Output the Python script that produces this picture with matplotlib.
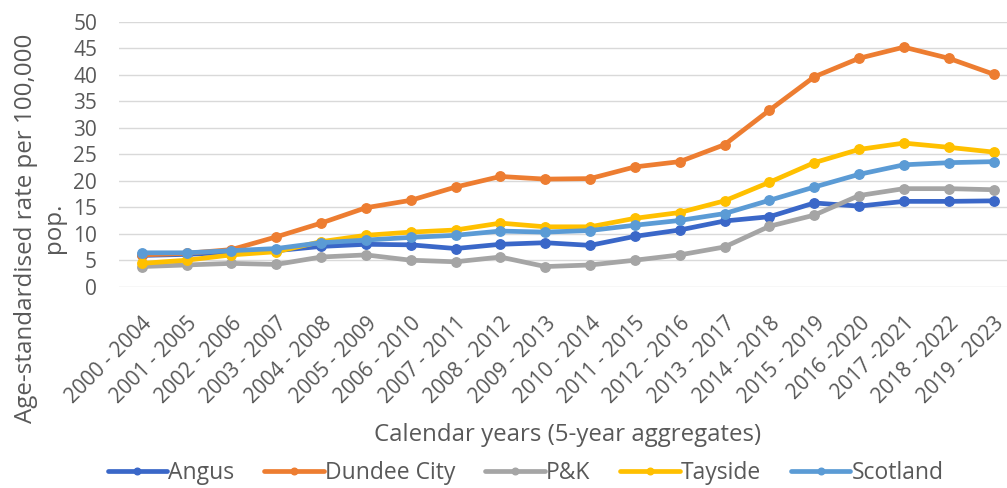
import matplotlib.pyplot as plt
from matplotlib.transforms import ScaledTranslation

periods = ['2000 - 2004', '2001 - 2005', '2002 - 2006', '2003 - 2007', '2004 - 2008',
           '2005 - 2009', '2006 - 2010', '2007 - 2011', '2008 - 2012', '2009 - 2013',
           '2010 - 2014', '2011 - 2015', '2012 - 2016', '2013 - 2017', '2014 - 2018',
           '2015 - 2019', '2016 -2020', '2017 -2021', '2018 - 2022', '2019 - 2023']

angus = [5.9, 6.1, 6.5, 6.8, 7.6, 8.0, 7.9, 7.2, 8.0, 8.3,
         7.8, 9.5, 10.7, 12.4, 13.2, 15.8, 15.2, 16.1, 16.1, 16.2]
dundee = [6.0, 6.3, 7.0, 9.4, 12.0, 14.9, 16.3, 18.8, 20.8, 20.3,
          20.4, 22.6, 23.6, 26.8, 33.3, 39.6, 43.1, 45.2, 43.1, 40.1]
pk = [3.8, 4.1, 4.4, 4.2, 5.6, 6.0, 5.0, 4.7, 5.6, 3.8,
      4.1, 5.0, 6.0, 7.5, 11.4, 13.5, 17.2, 18.5, 18.5, 18.3]
tayside = [4.4, 5.0, 6.0, 6.6, 8.5, 9.7, 10.3, 10.7, 12.0, 11.3,
           11.3, 12.9, 14.0, 16.2, 19.7, 23.4, 25.9, 27.1, 26.3, 25.4]
scotland = [6.4, 6.4, 6.8, 7.2, 8.3, 8.8, 9.3, 9.7, 10.5, 10.3,
            10.6, 11.6, 12.5, 13.8, 16.3, 18.8, 21.2, 23.0, 23.4, 23.6]

series = [('Angus', angus, '#3A67C8'),
          ('Dundee City', dundee, '#ED7D31'),
          ('P&K', pk, '#A5A5A5'),
          ('Tayside', tayside, '#FFC000'),
          ('Scotland', scotland, '#5B9BD5')]

plt.rcParams['font.family'] = ['Open Sans', 'DejaVu Sans']
text_col = '#595959'

fig = plt.figure(figsize=(10.07, 4.88), dpi=100)
ax = fig.add_axes([0.1185, 0.4125, 0.8815, 0.543])

x = range(len(periods))
for name, vals, col in series:
    ax.plot(x, vals, color=col, lw=3.4, marker='o', ms=6.8, label=name,
            solid_capstyle='round')

ax.set_ylim(0, 50)
ax.set_yticks(range(0, 51, 5))
ax.set_xlim(-0.5, 19.3)
ax.set_xticks(list(x))
ax.set_xticklabels(periods, rotation=45, ha='right', rotation_mode='anchor',
                   fontsize=15, color=text_col)
# pull the slanted labels slightly left so they end under their ticks
shift = ScaledTranslation(-1 / 72, 0, fig.dpi_scale_trans)
for lab in ax.get_xticklabels():
    lab.set_transform(lab.get_transform() + shift)
ax.tick_params(axis='y', labelsize=15, labelcolor=text_col, length=0, pad=16)
ax.tick_params(axis='x', length=0, pad=19)
ax.grid(axis='y', color='#D9D9D9', lw=1)
ax.set_axisbelow(True)
for s in ax.spines.values():
    s.set_visible(False)

fig.text(0.564, 0.108, 'Calendar years (5-year aggregates)', ha='center',
         va='center', fontsize=17.3, color=text_col)
fig.text(0.0397, 0.533, 'Age-standardised rate per 100,000\npop.', rotation=90,
         ha='center', va='center', multialignment='center', fontsize=17.4,
         color=text_col, linespacing=1.25)

fig.legend(loc='center', bbox_to_anchor=(0.522, 0.031), ncol=5, frameon=False,
           fontsize=16.5, labelcolor=text_col, handlelength=2.6, columnspacing=1.3,
           handletextpad=0.05, markerscale=0.7)

fig.savefig('out.png', dpi=100)
